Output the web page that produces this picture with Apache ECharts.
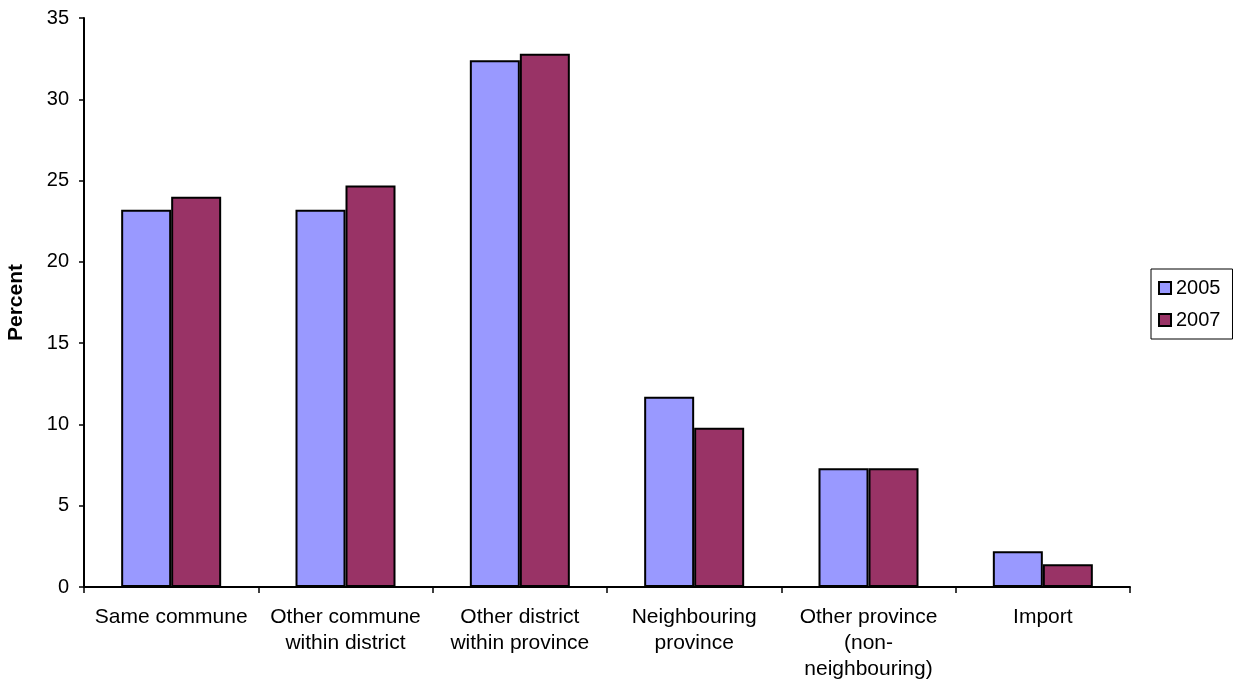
<!DOCTYPE html>
<html><head><meta charset="utf-8">
<script src="https://cdn.jsdelivr.net/npm/echarts@6/dist/echarts.min.js"></script>
<style>html,body{margin:0;padding:0;background:#fff}#c{width:1234px;height:684px}</style>
</head><body><div id="c"></div>
<script>
const categories = ["Same commune", "Other commune\nwithin district", "Other district\nwithin province", "Neighbouring\nprovince", "Other province\n(non-\nneighbouring)", "Import"];
const values2005 = [23.2, 23.2, 32.4, 11.7, 7.3, 2.2];
const values2007 = [24.0, 24.7, 32.8, 9.8, 7.3, 1.4];
const seriesNames = ["2005", "2007"];
const yTicks = { min: 0, max: 35, interval: 5 };

const FONT = "Liberation Sans, Arial, sans-serif";
const chart = echarts.init(document.getElementById('c'), null, { renderer: 'canvas' });
chart.setOption({
  animation: false,
  backgroundColor: '#fff',
  grid: { left: 84, right: 104, top: 18, bottom: 97, containLabel: false, outerBoundsMode: 'none' },
  legend: {
    orient: 'vertical',
    left: 1151, top: 269,
    data: seriesNames,
    backgroundColor: '#fff',
    borderColor: '#000', borderWidth: 1,
    padding: [9, 12, 9, 7],
    itemWidth: 12, itemHeight: 12, itemGap: 12,
    icon: 'rect',
    textStyle: { fontFamily: FONT, fontSize: 20, color: '#000' }
  },
  xAxis: {
    type: 'category',
    data: categories,
    axisLine: { lineStyle: { color: '#000', width: 2 } },
    axisTick: { show: true, length: 6, alignWithLabel: false, lineStyle: { color: '#000', width: 1.5 } },
    axisLabel: { fontFamily: FONT, fontSize: 21, color: '#000', lineHeight: 26, margin: 17, interval: 0 },
    splitLine: { show: false }
  },
  yAxis: {
    type: 'value',
    min: yTicks.min, max: yTicks.max, interval: yTicks.interval,
    name: 'Percent',
    nameLocation: 'middle',
    nameGap: 57,
    nameTextStyle: { fontFamily: FONT, fontSize: 21, fontWeight: 'bold', color: '#000' },
    axisLine: { show: true, lineStyle: { color: '#000', width: 2 } },
    axisTick: { show: true, length: 5, lineStyle: { color: '#000', width: 1.5 } },
    axisLabel: { fontFamily: FONT, fontSize: 20, color: '#000', margin: 15 },
    splitLine: { show: false }
  },
  series: [
    {
      name: seriesNames[0], type: 'bar', data: values2005,
      barWidth: 50, barGap: '0%',
      itemStyle: { color: '#9999FF', borderColor: '#000', borderWidth: 2 }
    },
    {
      name: seriesNames[1], type: 'bar', data: values2007,
      barWidth: 50, barGap: '0%',
      itemStyle: { color: '#993366', borderColor: '#000', borderWidth: 2 }
    }
  ]
});
</script></body></html>
